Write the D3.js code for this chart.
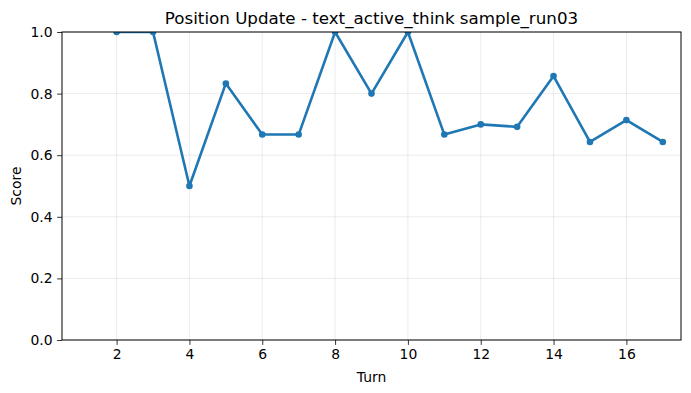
<!DOCTYPE html>
<html><head><meta charset="utf-8">
<script src="https://cdn.jsdelivr.net/npm/d3@7"></script>
<style>body{margin:0;background:#fff}svg{display:block}text{font-family:"DejaVu Sans",sans-serif}</style>
</head><body><svg id="c" width="691" height="393"></svg>
<script>
const turns = [2,3,4,5,6,7,8,9,10,11,12,13,14,15,16,17];
const scores = [1.0,1.0,0.5,0.833,0.667,0.667,1.0,0.8,1.0,0.667,0.7,0.692,0.857,0.643,0.714,0.643];
const xTicks = [2,4,6,8,10,12,14,16];
const yTicks = [0,0.2,0.4,0.6,0.8,1.0];
const title = "Position Update - text_active_think sample_run03";

const svg = d3.select("#c");
const L=62,R=681,T=32,B=340;
const x = d3.scaleLinear().domain([0.5,17.5]).range([L,R]);
const y = d3.scaleLinear().domain([0,1]).range([B,T]);

svg.append("defs").append("clipPath").attr("id","clip").append("rect").attr("x",L).attr("y",T).attr("width",R-L).attr("height",B-T);

const g = svg.append("g");
g.selectAll(".gx").data(xTicks).join("line").attr("x1",d=>x(d)).attr("x2",d=>x(d)).attr("y1",T).attr("y2",B)
 .attr("stroke","#b0b0b0").attr("stroke-opacity",0.3).attr("stroke-width",0.8);
g.selectAll(".gy").data(yTicks).join("line").attr("y1",d=>y(d)).attr("y2",d=>y(d)).attr("x1",L).attr("x2",R)
 .attr("stroke","#b0b0b0").attr("stroke-opacity",0.3).attr("stroke-width",0.8);

const xa = svg.append("g").attr("transform",`translate(0,${B})`).call(d3.axisBottom(x).tickValues(xTicks).tickSize(4.9).tickPadding(4.5).tickFormat(d3.format("d")));
const ya = svg.append("g").attr("transform",`translate(${L},0)`).call(d3.axisLeft(y).tickValues(yTicks).tickSize(4.9).tickPadding(4.5).tickFormat(d3.format(".1f")));
[xa,ya].forEach(a=>{a.select(".domain").remove();a.selectAll("text").attr("font-size","13.9px").attr("fill","#000").attr("font-family","DejaVu Sans");a.selectAll("line").attr("stroke","#000").attr("stroke-width",0.8);});

const plot = svg.append("g").attr("clip-path","url(#clip)");
const line = d3.line().x((d,i)=>x(turns[i])).y(d=>y(d));
plot.append("path").datum(scores).attr("d",line).attr("fill","none").attr("stroke","#1f77b4").attr("stroke-width",2.6).attr("stroke-linejoin","round");
plot.selectAll(".pt").data(scores).join("circle").attr("cx",(d,i)=>x(turns[i])).attr("cy",d=>y(d)).attr("r",3.3).attr("fill","#1f77b4");

svg.append("rect").attr("x",L).attr("y",T).attr("width",R-L).attr("height",B-T).attr("fill","none").attr("stroke","#000").attr("stroke-width",1);

svg.append("text").attr("x",(L+R)/2).attr("y",T-8).attr("text-anchor","middle").attr("font-size","16.7px").text(title);
svg.append("text").attr("x",(L+R)/2).attr("y",382).attr("text-anchor","middle").attr("font-size","13.9px").text("Turn");
svg.append("text").attr("transform",`translate(21,${(T+B)/2}) rotate(-90)`).attr("text-anchor","middle").attr("font-size","13.9px").text("Score");
</script></body></html>
